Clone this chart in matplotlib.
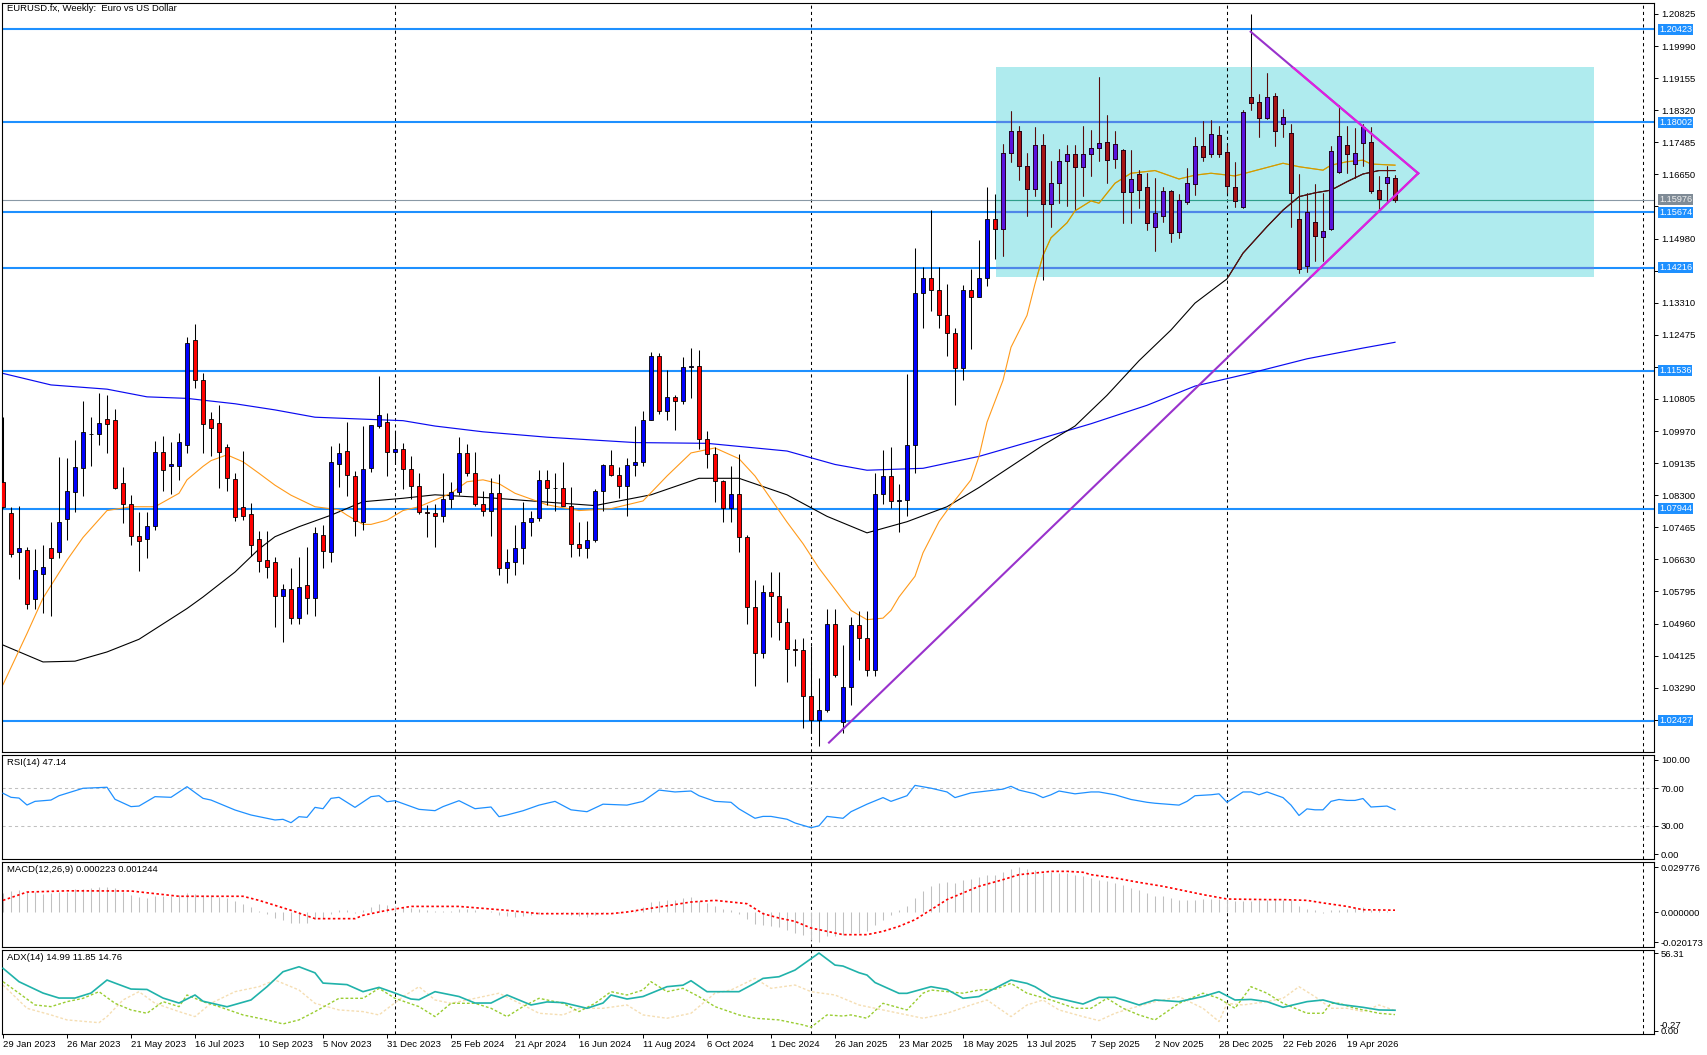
import numpy as np
import matplotlib
matplotlib.use("Agg")
import matplotlib.pyplot as plt
import matplotlib.transforms as mtransforms
from matplotlib.patches import Rectangle

W, H = 1707, 1055
plt.rcParams['font.family'] = ['Liberation Sans', 'DejaVu Sans']
FS = 6.8

## --Weekly candles, 29 Jan 2023 .. 31 May 2026 (bar index 0..174)
opens = [
    1.0865, 1.0784, 1.0683, 1.0687, 1.0560, 1.0625, 1.0693, 1.0682, 1.0769, 1.0839,
    1.0901, 1.0990, 1.0989, 1.1028, 1.1025, 1.0862, 1.0808, 1.0724, 1.0716, 1.0750,
    1.0942, 1.0906, 1.0906, 1.0960, 1.1234, 1.1130, 1.1028, 1.1018, 1.0955, 1.0872,
    1.0799, 1.0781, 1.0716, 1.0662, 1.0656, 1.0568, 1.0587, 1.0510, 1.0596, 1.0563,
    1.0727, 1.0682, 1.0911, 1.0945, 1.0880, 1.0760, 1.0901, 1.1010, 1.1021, 1.0943,
    1.0950, 1.0897, 1.0855, 1.0787, 1.0784, 1.0776, 1.0821, 1.0838, 1.0939, 1.0888,
    1.0808, 1.0790, 1.0837, 1.0641, 1.0656, 1.0693, 1.0761, 1.0771, 1.0870, 1.0848,
    1.0850, 1.0801, 1.0702, 1.0693, 1.0713, 1.0841, 1.0908, 1.0882, 1.0855, 1.0909,
    1.0917, 1.1027, 1.1193, 1.1048, 1.1085, 1.1076, 1.1163, 1.1165, 1.0975, 1.0936,
    1.0867, 1.0797, 1.0834, 1.0720, 1.0540, 1.0418, 1.0577, 1.0567, 1.0501, 1.0430,
    1.0426, 1.0307, 1.0244, 1.0271, 1.0494, 1.0240, 1.0330, 1.0493, 1.0459, 1.0375,
    1.0833, 1.0880, 1.0815, 1.0818, 1.0961, 1.1357, 1.1395, 1.1365, 1.1298, 1.1252,
    1.1162, 1.1365, 1.1347, 1.1396, 1.1550, 1.1523, 1.1720, 1.1779, 1.1688, 1.1627,
    1.1741, 1.1587, 1.1642, 1.1701, 1.1719, 1.1685, 1.1719, 1.1734, 1.1749, 1.1705,
    1.1728, 1.1618, 1.1666, 1.1631, 1.1529, 1.1557, 1.1621, 1.1516, 1.1594, 1.1639,
    1.1739, 1.1718, 1.1768, 1.1722, 1.1631, 1.1581, 1.1866, 1.1853, 1.1813, 1.1870,
    1.1796, 1.1772, 1.1548, 1.1427, 1.1540, 1.1501, 1.1522, 1.1670, 1.1742, 1.1692,
    1.1746, 1.1749, 1.1624, 1.1642, 1.1655]
highs = [
    1.1033, 1.0799, 1.0802, 1.0695, 1.0690, 1.0700, 1.0760, 1.0929, 1.0927, 1.0974,
    1.1075, 1.1033, 1.1096, 1.1091, 1.1055, 1.0903, 1.0831, 1.0787, 1.0787, 1.0971,
    1.0983, 1.0968, 1.0993, 1.1243, 1.1276, 1.1148, 1.1046, 1.1065, 1.0962, 1.0888,
    1.0945, 1.0809, 1.0738, 1.0738, 1.0670, 1.0599, 1.0640, 1.0668, 1.0695, 1.0748,
    1.0753, 1.0957, 1.0965, 1.1020, 1.0894, 1.1011, 1.1013, 1.1140, 1.1045, 1.0998,
    1.0965, 1.0932, 1.0888, 1.0805, 1.0806, 1.0888, 1.0865, 1.0981, 1.0964, 1.0942,
    1.0842, 1.0876, 1.0885, 1.0690, 1.0753, 1.0812, 1.0790, 1.0895, 1.0895, 1.0889,
    1.0916, 1.0852, 1.0761, 1.0762, 1.0845, 1.0910, 1.0948, 1.0903, 1.0926, 1.1009,
    1.1048, 1.1202, 1.1201, 1.1155, 1.1090, 1.1190, 1.1214, 1.1209, 1.0996, 1.0955,
    1.0870, 1.0905, 1.0937, 1.0726, 1.0610, 1.0597, 1.0630, 1.0630, 1.0536, 1.0456,
    1.0459, 1.0437, 1.0353, 1.0533, 1.0533, 1.0440, 1.0513, 1.0528, 1.0528, 1.0888,
    1.0947, 1.0955, 1.0858, 1.1146, 1.1474, 1.1425, 1.1573, 1.1424, 1.1380, 1.1265,
    1.1377, 1.1420, 1.1495, 1.1631, 1.1615, 1.1745, 1.1830, 1.1790, 1.1720, 1.1789,
    1.1770, 1.1699, 1.1730, 1.1742, 1.1741, 1.1790, 1.1780, 1.1918, 1.1820, 1.1778,
    1.1731, 1.1729, 1.1676, 1.1669, 1.1656, 1.1632, 1.1624, 1.1614, 1.1682, 1.1763,
    1.1804, 1.1807, 1.1790, 1.1742, 1.1697, 1.1833, 1.2082, 1.1874, 1.1929, 1.1877,
    1.1835, 1.1796, 1.1666, 1.1616, 1.1640, 1.1616, 1.1740, 1.1846, 1.1791, 1.1786,
    1.1796, 1.1789, 1.1662, 1.1688, 1.1663]
lows = [
    1.0796, 1.0669, 1.0612, 1.0533, 1.0533, 1.0524, 1.0516, 1.0667, 1.0713, 1.0787,
    1.0828, 1.0906, 1.0960, 1.0940, 1.0846, 1.0758, 1.0700, 1.0633, 1.0667, 1.0740,
    1.0841, 1.0833, 1.0870, 1.0940, 1.1109, 1.0941, 1.0932, 1.0850, 1.0842, 1.0763,
    1.0765, 1.0672, 1.0631, 1.0614, 1.0488, 1.0448, 1.0495, 1.0496, 1.0522, 1.0516,
    1.0641, 1.0656, 1.0852, 1.0828, 1.0723, 1.0739, 1.0891, 1.1005, 1.0880, 1.0910,
    1.0845, 1.0821, 1.0780, 1.0722, 1.0695, 1.0761, 1.0796, 1.0830, 1.0880, 1.0801,
    1.0777, 1.0724, 1.0622, 1.0601, 1.0623, 1.0650, 1.0725, 1.0763, 1.0804, 1.0788,
    1.0801, 1.0668, 1.0671, 1.0666, 1.0709, 1.0789, 1.0880, 1.0824, 1.0777, 1.0880,
    1.0907, 1.1026, 1.1042, 1.1026, 1.1001, 1.1068, 1.1082, 1.0950, 1.0901, 1.0811,
    1.0761, 1.0760, 1.0681, 1.0496, 1.0333, 1.0405, 1.0460, 1.0453, 1.0343, 1.0385,
    1.0224, 1.0210, 1.0178, 1.0265, 1.0358, 1.0210, 1.0285, 1.0402, 1.0360, 1.0360,
    1.0806, 1.0797, 1.0733, 1.0777, 1.0888, 1.1265, 1.1310, 1.1265, 1.1193, 1.1065,
    1.1130, 1.1210, 1.1345, 1.1374, 1.1445, 1.1452, 1.1696, 1.1650, 1.1556, 1.1610,
    1.1391, 1.1528, 1.1590, 1.1583, 1.1574, 1.1608, 1.1660, 1.1700, 1.1643, 1.1682,
    1.1539, 1.1539, 1.1577, 1.1520, 1.1466, 1.1541, 1.1490, 1.1500, 1.1588, 1.1611,
    1.1701, 1.1711, 1.1711, 1.1617, 1.1581, 1.1577, 1.1833, 1.1763, 1.1809, 1.1740,
    1.1763, 1.1529, 1.1409, 1.1412, 1.1440, 1.1440, 1.1520, 1.1668, 1.1668, 1.1655,
    1.1688, 1.1616, 1.1573, 1.1594, 1.1594]
closes = [
    1.0799, 1.0677, 1.0693, 1.0546, 1.0635, 1.0643, 1.0666, 1.0760, 1.0840, 1.0903,
    1.0994, 1.0988, 1.1018, 1.1015, 1.0850, 1.0808, 1.0724, 1.0711, 1.0750, 1.0942,
    1.0896, 1.0912, 1.0968, 1.1226, 1.1130, 1.1015, 1.1005, 1.0943, 1.0875, 1.0772,
    1.0776, 1.0700, 1.0659, 1.0643, 1.0568, 1.0586, 1.0510, 1.0591, 1.0563, 1.0732,
    1.0685, 1.0916, 1.0940, 1.0882, 1.0763, 1.0898, 1.1013, 1.1038, 1.0943, 1.0950,
    1.0897, 1.0855, 1.0787, 1.0784, 1.0776, 1.0821, 1.0838, 1.0939, 1.0888, 1.0808,
    1.0790, 1.0837, 1.0641, 1.0656, 1.0693, 1.0761, 1.0771, 1.0870, 1.0848, 1.0850,
    1.0801, 1.0702, 1.0693, 1.0713, 1.0841, 1.0908, 1.0882, 1.0855, 1.0909, 1.0917,
    1.1027, 1.1193, 1.1048, 1.1085, 1.1076, 1.1163, 1.1165, 1.0975, 1.0936, 1.0867,
    1.0797, 1.0834, 1.0720, 1.0540, 1.0418, 1.0577, 1.0567, 1.0501, 1.0430, 1.0426,
    1.0307, 1.0244, 1.0271, 1.0494, 1.0361, 1.0330, 1.0493, 1.0459, 1.0375, 1.0833,
    1.0880, 1.0815, 1.0818, 1.0961, 1.1357, 1.1395, 1.1365, 1.1298, 1.1252, 1.1162,
    1.1365, 1.1347, 1.1396, 1.1550, 1.1523, 1.1720, 1.1779, 1.1688, 1.1627, 1.1741,
    1.1587, 1.1642, 1.1701, 1.1719, 1.1685, 1.1719, 1.1734, 1.1746, 1.1702, 1.1743,
    1.1618, 1.1652, 1.1625, 1.1538, 1.1565, 1.1621, 1.1512, 1.1598, 1.1642, 1.1739,
    1.1709, 1.1769, 1.1718, 1.1636, 1.1597, 1.1828, 1.1850, 1.1813, 1.1867, 1.1779,
    1.1814, 1.1616, 1.1418, 1.1566, 1.1505, 1.1518, 1.1726, 1.1765, 1.1719, 1.1720,
    1.1789, 1.1623, 1.1602, 1.1658, 1.15976]

date_labels = ['29 Jan 2023', '26 Mar 2023', '21 May 2023', '16 Jul 2023', '10 Sep 2023',
               '5 Nov 2023', '31 Dec 2023', '25 Feb 2024', '21 Apr 2024', '16 Jun 2024',
               '11 Aug 2024', '6 Oct 2024', '1 Dec 2024', '26 Jan 2025', '23 Mar 2025',
               '18 May 2025', '13 Jul 2025', '7 Sep 2025', '2 Nov 2025', '28 Dec 2025',
               '22 Feb 2026', '19 Apr 2026']
date_bars = [0, 8, 16, 24, 32, 40, 48, 56, 64, 72, 80, 88, 96, 104, 112, 120, 128,
             136, 144, 152, 160, 168]
year_sep_bars = [49, 101, 153, 205]

## --Moving averages (bar, price)
ma20_bar = [0, 3, 5, 8, 10, 13, 16, 19, 22, 23, 25, 26, 28, 30, 32, 34, 36, 39, 42, 43,
            45, 46, 48, 50, 52, 56, 58, 60, 62, 64, 68, 72, 76, 80, 83, 86, 89, 92, 94, 96,
            98, 100, 102, 104, 106, 108, 110, 111, 112, 114, 115, 117, 118, 119, 121, 122,
            123, 125, 126, 128, 129, 130, 131, 133, 134, 136, 137, 139, 141, 144, 147, 149,
            151, 154, 156, 160, 162, 165, 166, 168, 170, 171, 174]
ma20_val = [1.0337, 1.0470, 1.0562, 1.0661, 1.0720, 1.0790, 1.0800, 1.0800, 1.0835, 1.0870,
            1.0905, 1.0920, 1.0935, 1.0917, 1.0887, 1.0856, 1.0830, 1.0800, 1.0792, 1.0778,
            1.0754, 1.0754, 1.0765, 1.0790, 1.0800, 1.0835, 1.0865, 1.0870, 1.0860, 1.0835,
            1.0805, 1.0790, 1.0795, 1.0815, 1.0880, 1.0940, 1.0953, 1.0925, 1.0880, 1.0820,
            1.0760, 1.0704, 1.0640, 1.0585, 1.0530, 1.0506, 1.0510, 1.0530, 1.0565, 1.0619,
            1.0680, 1.0761, 1.0790, 1.0817, 1.0870, 1.0931, 1.1020, 1.1129, 1.1215, 1.1298,
            1.1380, 1.1454, 1.1500, 1.1539, 1.1570, 1.1596, 1.1590, 1.1642, 1.1668, 1.1675,
            1.1653, 1.1663, 1.1668, 1.1661, 1.1672, 1.1694, 1.1685, 1.1676, 1.1689, 1.1698,
            1.1702, 1.1692, 1.1689]
ma50_bar = [0, 5, 9, 13, 17, 20, 23, 25, 29, 32, 34, 37, 41, 45, 50, 54, 61, 68, 74, 81,
            87, 92, 98, 103, 108, 113, 118, 122, 126, 130, 134, 138, 142, 146, 149, 153, 155,
            158, 160, 162, 164, 166, 168, 170, 172, 174]
ma50_val = [1.0440, 1.0396, 1.0398, 1.0422, 1.0455, 1.0495, 1.0535, 1.0565, 1.0630, 1.0690,
            1.0722, 1.0748, 1.0778, 1.0813, 1.0822, 1.0831, 1.0823, 1.0812, 1.0803, 1.0831,
            1.0874, 1.0874, 1.0831, 1.0775, 1.0732, 1.0761, 1.0800, 1.0850, 1.0905, 1.0960,
            1.1010, 1.1090, 1.1180, 1.1260, 1.1330, 1.1393, 1.1460, 1.1529, 1.1572, 1.1607,
            1.1617, 1.1624, 1.1646, 1.1666, 1.1675, 1.1675]
ma200_bar = [0, 6, 13, 18, 23, 29, 34, 39, 45, 50, 54, 60, 68, 79, 88, 98, 104, 108, 115,
             122, 129, 136, 143, 149, 156, 163, 170, 174]
ma200_val = [1.1147, 1.1117, 1.1106, 1.1086, 1.1082, 1.1068, 1.1052, 1.1033, 1.1028, 1.1024,
             1.1010, 1.0995, 1.0981, 1.0967, 1.0965, 1.0945, 1.0910, 1.0895, 1.0900, 1.0931,
             1.0973, 1.1016, 1.1064, 1.1114, 1.1148, 1.1185, 1.1213, 1.1228]

## --Objects drawn on the chart
levels = [1.20423, 1.18002, 1.15674, 1.14216, 1.11536, 1.07944, 1.02427]
box_bars = [124.1, 198.9]
box_prices = [1.13972, 1.19454]
tri_upper_bar = [155.96, 176.9]
tri_upper_px = [1.20364, 1.16679]
tri_lower_bar = [103.25, 176.9]
tri_lower_px = [1.01861, 1.16679]

## --RSI(14) read at bars
rsi_bar = [0, 1, 2, 3, 4, 6, 7, 10, 13, 14, 16, 17, 19, 21, 23, 25, 26, 29, 31, 34, 35, 36,
           37, 38, 39, 40, 41, 42, 44, 46, 47, 48, 49, 52, 54, 55, 57, 59, 61, 62, 63, 65,
           67, 69, 71, 73, 75, 78, 80, 82, 84, 86, 87, 89, 91, 92, 94, 95, 96, 98, 99, 101,
           102, 103, 105, 106, 108, 110, 111, 113, 114, 116, 118, 119, 121, 122, 125, 126,
           127, 129, 130, 131, 132, 134, 136, 137, 139, 141, 143, 144, 147, 148, 149, 151,
           152, 153, 155, 156, 157, 158, 160, 161, 162, 163, 164, 165, 166, 167, 168, 169,
           170, 171, 173, 174]
rsi_val = [64.6, 60.3, 59.5, 52.1, 56, 57.4, 62, 69.9, 71, 58.2, 50.4, 51, 61, 60.3, 71.6,
           59.2, 57.4, 46.8, 41.5, 36.2, 36.9, 33.3, 39.7, 39, 49.6, 48.2, 59.2, 60.3, 49.6,
           61, 62, 55.6, 56.7, 47.5, 46.1, 50.4, 56.7, 48.2, 50, 39.7, 41.5, 46, 52, 56, 47,
           45, 53, 52, 56, 68, 66, 67, 62, 56, 55, 48, 38, 40, 40, 37, 33, 28, 30, 40, 38,
           45, 53, 60, 56, 62, 73, 70, 66, 60, 65, 66, 69, 72, 68, 64, 60, 63, 67, 64, 66,
           66, 63, 58, 55, 54, 52, 56, 62, 63, 64, 55, 66, 66, 63, 66, 60, 52, 41, 48, 47,
           47, 56, 58, 57, 57, 59, 50, 51, 47.14]

## --MACD(12,26,9): main value per bar, signal read at bars
macd_main = [
    0.0125, 0.0140, 0.0145, 0.0130, 0.0135, 0.0120, 0.0125, 0.0130, 0.0135, 0.0150,
    0.0155, 0.0160, 0.0165, 0.0168, 0.0160, 0.0135, 0.0115, 0.0100, 0.0095, 0.0105,
    0.0105, 0.0105, 0.0110, 0.0125, 0.0120, 0.0115, 0.0110, 0.0100, 0.0090, 0.0070,
    0.0052, 0.0030, 0.0005, -0.0015, -0.0040, -0.0055, -0.0075, -0.0072, -0.0070, -0.0045,
    -0.0040, -0.0010, 0.0010, 0.0010, -0.0005, 0.0010, 0.0030, 0.0050, 0.0045, 0.0040,
    0.0035, 0.0028, 0.0018, 0.0010, 0.0005, 0.0005, 0.0008, 0.0020, 0.0020, 0.0010,
    0.0000, 0.0005, -0.0020, -0.0028, -0.0030, -0.0025, -0.0022, -0.0010, -0.0005, -0.0002,
    -0.0008, -0.0020, -0.0028, -0.0030, -0.0018, -0.0005, -0.0003, -0.0005, 0.0002, 0.0008,
    0.0030, 0.0065, 0.0070, 0.0078, 0.0078, 0.0090, 0.0100, 0.0075, 0.0058, 0.0040,
    0.0018, 0.0010, -0.0010, -0.0045, -0.0080, -0.0085, -0.0090, -0.0100, -0.0117, -0.0139,
    -0.0154, -0.0183, -0.0200, -0.0161, -0.0161, -0.0150, -0.0139, -0.0139, -0.0128, -0.0084,
    -0.0051, -0.0018, 0.0011, 0.0037, 0.0093, 0.0141, 0.0174, 0.0192, 0.0196, 0.0192,
    0.0214, 0.0221, 0.0230, 0.0243, 0.0247, 0.0265, 0.0287, 0.0297, 0.0287, 0.0280,
    0.0258, 0.0263, 0.0258, 0.0258, 0.0247, 0.0236, 0.0225, 0.0214, 0.0207, 0.0192,
    0.0181, 0.0159, 0.0148, 0.0126, 0.0108, 0.0104, 0.0093, 0.0077, 0.0082, 0.0082,
    0.0086, 0.0088, 0.0086, 0.0082, 0.0070, 0.0070, 0.0070, 0.0082, 0.0082, 0.0088,
    0.0082, 0.0077, 0.0037, 0.0022, 0.0011, -0.0007, 0.0011, 0.0015, 0.0022, 0.0026,
    0.0033, 0.0015, 0.0011, 0.0004, 0.0002]
sig_bar = [0, 3, 8, 16, 22, 30, 32, 36, 39, 44, 45, 48, 51, 57, 63, 67, 76, 78, 82, 86, 89,
           93, 95, 97, 99, 101, 103, 105, 108, 110, 112, 114, 116, 118, 120, 122, 125, 127,
           131, 133, 135, 136, 139, 142, 145, 148, 150, 153, 158, 160, 163, 165, 168, 170,
           174]
sig_val = [0.0077, 0.0132, 0.0140, 0.0139, 0.0104, 0.0104, 0.0077, 0.0011, -0.0044, -0.0044,
           -0.0022, 0.0011, 0.0037, 0.0037, 0.0011, -0.0011, -0.0011, 0.0000, 0.0033, 0.0066,
           0.0077, 0.0055, -0.0011, -0.0040, -0.0062, -0.0106, -0.0128, -0.0150, -0.0150,
           -0.0128, -0.0095, -0.0051, 0.0015, 0.0082, 0.0126, 0.0170, 0.0214, 0.0247, 0.0269,
           0.0269, 0.0263, 0.0247, 0.0225, 0.0196, 0.0170, 0.0137, 0.0115, 0.0086, 0.0082,
           0.0082, 0.0077, 0.0060, 0.0037, 0.0015, 0.0012]

## --ADX(14) read at bars
adx_bar = [0, 2, 5, 7, 9, 11, 13, 14, 16, 18, 20, 22, 24, 25, 28, 31, 33, 35, 37, 39, 40,
           43, 45, 47, 49, 51, 52, 54, 57, 59, 61, 63, 66, 68, 70, 73, 75, 76, 78, 80, 83,
           85, 86, 88, 92, 94, 95, 97, 99, 102, 104, 105, 107, 108, 109, 112, 113, 116, 118,
           120, 122, 124, 126, 128, 129, 131, 135, 137, 139, 142, 144, 147, 150, 152, 154,
           156, 158, 160, 163, 165, 167, 170, 172, 174]
adx_val = [45.3, 35.6, 27.4, 23.8, 23.8, 27.4, 36.8, 34.6, 30.3, 30, 23.8, 20.2, 26, 21.5,
           17.5, 22.4, 32, 42.8, 46.4, 42, 34.6, 33.5, 28.4, 31.5, 27.4, 23.1, 22.6, 28.4,
           24.9, 20.2, 20.2, 26, 18.8, 21, 20.5, 16.4, 20.2, 26, 23.1, 24.9, 32, 33.1, 36.3,
           28.4, 28.4, 34.6, 38, 39.2, 44, 56.3, 47.6, 46.9, 42.1, 40.4, 35, 27.2, 27.2, 32,
           30, 23.6, 24.9, 30.9, 36.8, 34.4, 32, 24.9, 19.5, 24.3, 24.3, 18.8, 22.4, 21.2,
           24.9, 28.4, 22.4, 22.8, 21.2, 17.1, 21.2, 22.4, 19.3, 17.1, 15.2, 14.99]
pdi_bar = [0, 2, 4, 6, 8, 10, 12, 14, 16, 18, 20, 22, 23, 25, 27, 30, 33, 35, 37, 39, 42,
           45, 47, 49, 52, 54, 56, 59, 61, 63, 65, 67, 70, 72, 74, 76, 78, 80, 81, 83, 85,
           87, 89, 92, 94, 97, 100, 101, 103, 105, 106, 108, 110, 113, 115, 116, 120, 122,
           124, 126, 128, 131, 134, 136, 138, 140, 142, 144, 147, 150, 152, 154, 156, 158,
           160, 163, 165, 166, 167, 169, 172, 174]
pdi_val = [35.6, 27.3, 18.8, 17.6, 21.2, 23.6, 28.4, 20, 15.2, 12.8, 21.2, 17.6, 26, 21.2,
           17.6, 11.6, 8, 5.1, 8, 14, 23.6, 23.6, 30.8, 23.6, 17.6, 10.4, 20, 20, 16.4, 10.4,
           17.6, 23.6, 20, 14, 20, 28.4, 26, 29.6, 35.6, 28.4, 30.8, 24.8, 17.6, 11.6, 9.2,
           8, 4.4, 2.7, 11.6, 10.8, 11.6, 9.2, 20, 15.2, 27.3, 29.6, 27.3, 29.6, 30.1, 34.4,
           27.3, 22.4, 16.4, 16.4, 23.6, 16.4, 11.6, 8, 20, 27.3, 23.6, 16.4, 32, 27.3, 20,
           12.8, 12.8, 20, 20, 16.4, 12.8, 11.85]
mdi_bar = [0, 3, 6, 8, 12, 13, 15, 17, 19, 22, 24, 26, 29, 32, 34, 37, 39, 42, 45, 47, 50,
           52, 54, 56, 59, 62, 65, 67, 70, 72, 75, 78, 80, 83, 86, 89, 91, 94, 96, 99, 101,
           104, 107, 109, 111, 115, 118, 121, 123, 126, 128, 130, 132, 135, 137, 139, 141,
           144, 147, 150, 152, 153, 155, 158, 160, 162, 164, 166, 168, 170, 172, 174]
mdi_val = [33.2, 16.4, 11.6, 8, 6, 10.4, 22.4, 28.4, 20, 14, 10.4, 20, 28.4, 32, 36.8, 29.6,
           20, 15.2, 14, 11.6, 24.8, 32, 22.4, 20, 23.6, 27.3, 18.8, 12.8, 11.6, 16.4, 16.4,
           18.8, 11.6, 9.2, 12.8, 27.3, 29.6, 38, 30.8, 33.2, 28.4, 26, 18.8, 16.4, 14, 9.2,
           12.8, 18.8, 22.4, 10.4, 18.8, 22.4, 15.2, 10.4, 7.5, 12.8, 16.4, 21.2, 24.8, 16.4,
           6.8, 20, 18.8, 21.2, 23.6, 32, 24.8, 16.4, 16.4, 14, 18.8, 14.76]

price_ticks = [1.02455, 1.03290, 1.04125, 1.04960, 1.05795, 1.06630, 1.07465, 1.08300,
               1.09135, 1.09970, 1.10805, 1.11640, 1.12475, 1.13310, 1.14145, 1.14980,
               1.15815, 1.16650, 1.17485, 1.18320, 1.19155, 1.19990, 1.20825]


# ----> Plotting
fig = plt.figure(figsize=(W / 100, H / 100), dpi=100)
fig.patch.set_facecolor('white')


def panel(top, bottom):
    return fig.add_axes([2 / W, 1 - bottom / H, 1652 / W, (bottom - top) / H])


ax = panel(3, 752)
rax = panel(755, 859)
mac = panel(862, 947)
dax = panel(950, 1034)

for a in (ax, rax, mac, dax):
    a.set_xlim(-0.125, 206.375)
    a.set_facecolor('white')
    for s in a.spines.values():
        s.set_linewidth(0.8)
        s.set_color('black')
    a.yaxis.tick_right()
    a.tick_params(axis='y', direction='out', length=3, width=0.7, pad=2,
                  labelsize=FS, colors='black')
    a.tick_params(axis='x', bottom=False, labelbottom=False)
    for xs in year_sep_bars:
        a.axvline(xs, color='black', lw=0.75, ls=(0, (3, 3)), zorder=1)


def tag(a, y, text, bg, fg='white', dy=0):
    tr = mtransforms.offset_copy(
        mtransforms.blended_transform_factory(a.transAxes, a.transData),
        fig=fig, x=5, y=dy, units='dots')
    a.text(1.0, y, text, transform=tr, ha='left', va='center', color=fg, fontsize=6.6,
           bbox=dict(boxstyle='square,pad=0.1', fc=bg, ec='none'),
           clip_on=False, zorder=20)


def corner_label(a, text, dy=-3):
    a.annotate(text, xy=(0, 1), xycoords='axes fraction', xytext=(5, dy),
               textcoords='offset pixels', ha='left', va='top', fontsize=FS, zorder=20)


## --Main price panel
ax.set_ylim(1.01616, 1.21111)
ax.set_yticks(price_ticks)
# tick labels that sit under a price tag are hidden, as the terminal does
tagged = levels + [closes[-1]]
ax.set_yticklabels(['' if min(abs(p - t) for t in tagged) < 0.0017 else '%.5f' % p
                    for p in price_ticks])

box = Rectangle((box_bars[0], box_prices[0]), box_bars[1] - box_bars[0],
                box_prices[1] - box_prices[0], facecolor='#AFEBEE', edgecolor='none', zorder=0.5)
ax.add_patch(box)

idx = np.arange(len(closes))
o = np.array(opens)
c = np.array(closes)
up = c >= o
bottoms = np.minimum(o, c)
heights = np.maximum(np.abs(c - o), 0.0001)


def candles(up_col, dn_col, wick_col, edge_col, clip=None):
    arts = [ax.vlines(idx, lows, highs, color=wick_col, lw=0.75, zorder=3)]
    arts += list(ax.bar(idx[up], heights[up], 0.6, bottom=bottoms[up], color=up_col,
                        edgecolor=edge_col, lw=0.6, zorder=4))
    arts += list(ax.bar(idx[~up], heights[~up], 0.6, bottom=bottoms[~up], color=dn_col,
                        edgecolor=edge_col, lw=0.6, zorder=4))
    if clip is not None:
        for art in arts:
            art.set_clip_path(clip)


def line(a, xs, ys, col, col_in=None, **kw):
    a.plot(xs, ys, color=col, **kw)
    if col_in is not None:
        ln, = a.plot(xs, ys, color=col_in, **kw)
        ln.set_clip_path(box)


def hline(y, col, col_in, lw):
    ax.axhline(y, color=col, lw=lw, zorder=2)
    ln = ax.axhline(y, color=col_in, lw=lw, zorder=2)
    ln.set_clip_path(box)


for lv in levels:
    hline(lv, '#1E90FF', '#4F86E8', 1.5)
hline(closes[-1], '#8A99A6', '#2E9E8A', 0.8)

line(ax, ma200_bar, ma200_val, '#0A0AF0', None, lw=0.85, zorder=2.5)
line(ax, ma50_bar, ma50_val, 'black', '#5E0E0E', lw=0.8, zorder=2.5)
line(ax, ma20_bar, ma20_val, '#FF9A1A', '#C8A000', lw=0.8, zorder=2.5)

candles('#0000FF', '#FF0000', 'black', 'black')
candles('#5A14DC', '#A51515', '#5A0A0A', '#200018', clip=box)

line(ax, tri_upper_bar, tri_upper_px, '#9932CC', '#E020E0', lw=1.5, zorder=6)
line(ax, tri_lower_bar, tri_lower_px, '#9932CC', '#E020E0', lw=1.5, zorder=6)

for lv in levels:
    tag(ax, lv, '%.5f' % lv, '#1E90FF', dy=-1 if lv == 1.15674 else 0)
tag(ax, closes[-1], '%.5f' % closes[-1], '#7F8B96', '#F0F0F0', dy=1)

corner_label(ax, 'EURUSD.fx, Weekly:  Euro vs US Dollar', dy=-1)

## --RSI panel
rax.set_ylim(-5.3, 105.3)
rax.set_yticks([0, 30, 70, 100])
rax.set_yticklabels(['0.00', '30.00', '70.00', '100.00'])
for lv in (30, 70):
    rax.axhline(lv, color='#C0C0C0', lw=0.75, ls=(0, (3, 3)), zorder=1)
rax.plot(rsi_bar, rsi_val, color='#1E90FF', lw=0.9, zorder=3)
corner_label(rax, 'RSI(14) 47.14')

## --MACD panel
mac.set_ylim(-0.02316, 0.03309)
mac.set_yticks([-0.020173, 0.0, 0.029776])
mac.set_yticklabels(['-0.020173', '0.000000', '0.029776'])
mac.vlines(idx, 0, macd_main, color='#C0C0C0', lw=0.75, zorder=2)
mac.plot(sig_bar, sig_val, color='#FF0000', lw=1.2, ls=(0, (1.5, 1.5)), zorder=3)
corner_label(mac, 'MACD(12,26,9) 0.000223 0.001244')

## --ADX panel
dax.set_ylim(-2.17, 58.5)
dax.set_yticks([0, 56.31])
dax.set_yticklabels(['0.00', '56.31'])
dax.text(1.0, 0.9, '-0.27', transform=mtransforms.offset_copy(
    mtransforms.blended_transform_factory(dax.transAxes, dax.transData),
    fig=fig, x=6, y=0, units='dots'), ha='left', va='bottom', fontsize=FS, clip_on=False)
dax.plot(mdi_bar, mdi_val, color='#F5DEB3', lw=1.0, ls=(0, (2, 1.5)), zorder=2)
dax.plot(pdi_bar, pdi_val, color='#9ACD32', lw=1.0, ls=(0, (2, 1.5)), zorder=3)
dax.plot(adx_bar, adx_val, color='#20B2AA', lw=1.2, zorder=4)
corner_label(dax, 'ADX(14) 14.99 11.85 14.76')

dax.set_xticks(date_bars)
dax.set_xticklabels(date_labels)
dax.tick_params(axis='x', bottom=True, labelbottom=True, direction='out', length=3,
                width=0.7, pad=1, labelsize=FS)
for lbl in dax.get_xticklabels():
    lbl.set_horizontalalignment('left')

plt.savefig('out.png', dpi=100)
